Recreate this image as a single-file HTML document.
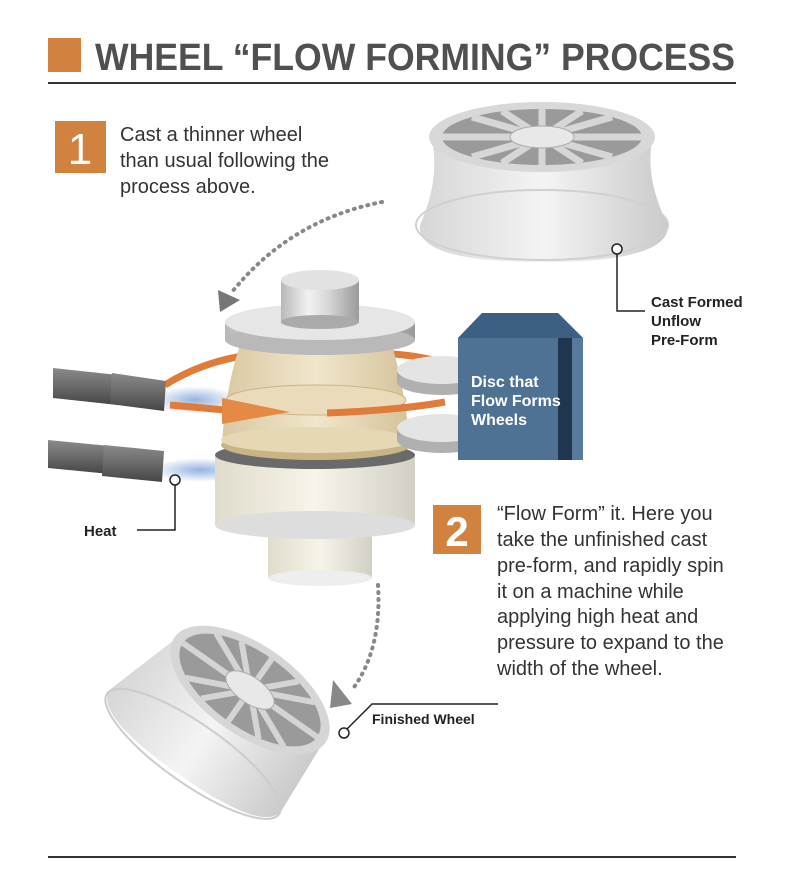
<!DOCTYPE html>
<html><head><meta charset="utf-8"><style>
body{margin:0;background:#fff}
svg{display:block}
.t{font-family:"Liberation Sans",sans-serif}
</style></head><body>
<svg width="800" height="894" viewBox="0 0 800 894" xmlns="http://www.w3.org/2000/svg">
<defs>
<linearGradient id="met" x1="0" x2="1" y1="0" y2="0">
<stop offset="0" stop-color="#b8b8b8"/><stop offset=".35" stop-color="#f2f2f2"/><stop offset=".6" stop-color="#d8d8d8"/><stop offset="1" stop-color="#9a9a9a"/></linearGradient>
<linearGradient id="met2" x1="0" x2="1"><stop offset="0" stop-color="#d6d6d6"/><stop offset=".5" stop-color="#f4f4f4"/><stop offset="1" stop-color="#cacaca"/></linearGradient>
<linearGradient id="tan" x1="0" x2="1"><stop offset="0" stop-color="#d9c8a2"/><stop offset=".5" stop-color="#f1e6cb"/><stop offset="1" stop-color="#d4c29a"/></linearGradient>
<linearGradient id="cream" x1="0" x2="1"><stop offset="0" stop-color="#e0dccc"/><stop offset=".5" stop-color="#f7f4ea"/><stop offset="1" stop-color="#d2cfc4"/></linearGradient>
<linearGradient id="rod" x1="0" y1="0" x2="0" y2="1"><stop offset="0" stop-color="#8a8a8a"/><stop offset=".5" stop-color="#6a6a6a"/><stop offset="1" stop-color="#454545"/></linearGradient>
<radialGradient id="blue" cx=".5" cy=".5" r=".5"><stop offset="0" stop-color="#7aa0d8" stop-opacity=".8"/><stop offset="1" stop-color="#7aa0d8" stop-opacity="0"/></radialGradient>
</defs>

<!-- title -->
<rect x="48" y="38" width="33" height="34" fill="#d2823f"/>
<text x="95" y="70" class="t" font-size="38" font-weight="bold" fill="#505050" textLength="640" lengthAdjust="spacingAndGlyphs">WHEEL “FLOW FORMING” PROCESS</text>
<line x1="48" y1="83" x2="736" y2="83" stroke="#333" stroke-width="2"/>
<line x1="48" y1="857" x2="736" y2="857" stroke="#333" stroke-width="2"/>

<!-- step 1 -->
<rect x="55" y="121" width="51" height="52" fill="#d2823f"/>
<text x="80" y="164" class="t" font-size="44" fill="#fff" text-anchor="middle">1</text>
<g class="t" font-size="20" fill="#333">
<text x="120" y="141">Cast a thinner wheel</text>
<text x="120" y="167">than usual following the</text>
<text x="120" y="193">process above.</text>
</g>

<!-- top wheel -->
<path d="M432 140 Q440 180 420 225 Q415 262 542 262 Q670 262 668 225 Q645 180 652 140 Z" fill="url(#met2)"/>
<ellipse cx="542" cy="225" rx="126" ry="35" fill="none" stroke="#d0d0d0" stroke-width="2"/>
<ellipse cx="542" cy="137" rx="113" ry="35" fill="#d8d8d8"/>
<ellipse cx="542" cy="137" rx="100" ry="28" fill="#9a9a9a"/>
<g stroke="#d6d6d6" stroke-width="7">
<line x1="542" y1="137" x2="542" y2="109"/><line x1="542" y1="137" x2="542" y2="165"/>
<line x1="542" y1="137" x2="642" y2="137"/><line x1="542" y1="137" x2="442" y2="137"/>
<line x1="542" y1="137" x2="612" y2="117"/><line x1="542" y1="137" x2="472" y2="157"/>
<line x1="542" y1="137" x2="612" y2="157"/><line x1="542" y1="137" x2="472" y2="117"/>
<line x1="542" y1="137" x2="582" y2="111"/><line x1="542" y1="137" x2="502" y2="163"/>
<line x1="542" y1="137" x2="582" y2="163"/><line x1="542" y1="137" x2="502" y2="111"/>
</g>
<ellipse cx="542" cy="137" rx="32" ry="11" fill="#e8e8e8" stroke="#aaa"/>

<!-- cast formed label -->
<circle cx="617" cy="249" r="5" fill="#fff" stroke="#222" stroke-width="1.5"/>
<polyline points="617,254 617,311 645,311" fill="none" stroke="#222" stroke-width="1.5"/>
<g class="t" font-size="15" font-weight="bold" fill="#222">
<text x="651" y="307">Cast Formed</text><text x="651" y="326">Unflow</text><text x="651" y="345">Pre-Form</text>
</g>

<!-- dotted arrow 1 -->
<path d="M382 202 Q290 220 232 292" fill="none" stroke="#888" stroke-width="4" stroke-dasharray="1 6" stroke-linecap="round"/>
<polygon points="218,290 240,300 220,312" fill="#777"/>

<!-- heat glows -->
<ellipse cx="195" cy="400" rx="45" ry="14" fill="url(#blue)"/>
<ellipse cx="200" cy="470" rx="50" ry="12" fill="url(#blue)"/>

<!-- orange orbit behind -->
<path d="M165 385 Q220 350 300 352 Q420 350 445 365" fill="none" stroke="#e07b3a" stroke-width="7"/>

<!-- lower cylinder -->
<rect x="268" y="520" width="104" height="58" fill="url(#cream)"/>
<ellipse cx="320" cy="578" rx="52" ry="8" fill="#eee"/>
<rect x="268" y="530" width="104" height="5" fill="#888"/>
<rect x="215" y="455" width="200" height="70" fill="url(#cream)"/>
<ellipse cx="315" cy="525" rx="100" ry="14" fill="#ddd"/>
<ellipse cx="315" cy="455" rx="100" ry="14" fill="#6a6a6a"/>

<!-- tan wheel -->
<path d="M240 345 Q225 390 222 445 L410 445 Q405 390 392 345 Z" fill="url(#tan)"/>
<ellipse cx="316" cy="445" rx="95" ry="15" fill="#c9b486"/>
<ellipse cx="316" cy="440" rx="95" ry="13" fill="#e6d8b5"/>
<ellipse cx="316" cy="400" rx="90" ry="15" fill="#eadcbb" stroke="#c9b486"/>

<!-- top disc + cylinder -->
<rect x="225" y="322" width="190" height="18" fill="url(#met)"/>
<ellipse cx="320" cy="340" rx="95" ry="15" fill="#b9b9b9"/>
<ellipse cx="320" cy="322" rx="95" ry="18" fill="#e6e6e6"/>
<rect x="281" y="280" width="78" height="42" fill="url(#met)"/>
<ellipse cx="320" cy="322" rx="39" ry="7" fill="#aaa"/>
<ellipse cx="320" cy="280" rx="39" ry="10" fill="#e2e2e2"/>

<!-- orange arrow front -->
<path d="M170 405 L225 410" stroke="#e07b3a" stroke-width="7"/>
<polygon points="222,398 290,412 222,424" fill="#e58a45"/>
<path d="M327 413 Q400 410 445 402" fill="none" stroke="#e07b3a" stroke-width="7"/>

<!-- discs -->
<rect x="397" y="370" width="90" height="12" fill="#aaa"/>
<ellipse cx="442" cy="382" rx="45" ry="13" fill="#b0b0b0"/>
<ellipse cx="442" cy="370" rx="45" ry="14" fill="#e4e4e4"/>
<rect x="397" y="428" width="90" height="12" fill="#aaa"/>
<ellipse cx="442" cy="440" rx="45" ry="13" fill="#b0b0b0"/>
<ellipse cx="442" cy="428" rx="45" ry="14" fill="#e4e4e4"/>

<!-- blue box -->
<polygon points="458,338 482,313 558,313 583,338 583,460 458,460" fill="#4f7194"/>
<polygon points="458,338 482,313 558,313 583,338" fill="#3d5f82"/>
<rect x="558" y="338" width="14" height="122" fill="#1f3550"/>
<rect x="572" y="338" width="11" height="122" fill="#577a9c"/>
<g class="t" font-size="16" font-weight="bold" fill="#fff">
<text x="471" y="387">Disc that</text><text x="471" y="406">Flow Forms</text><text x="471" y="425">Wheels</text>
</g>

<!-- heater rods -->
<polygon points="53,368 118,375 118,405 53,398" fill="url(#rod)"/>
<polygon points="112,373 166,381 164,411 110,404" fill="url(#rod)"/>
<polygon points="48,440 110,446 110,474 48,468" fill="url(#rod)"/>
<polygon points="104,445 164,451 162,482 102,476" fill="url(#rod)"/>

<!-- heat label -->
<circle cx="175" cy="480" r="5" fill="#fff" stroke="#222" stroke-width="1.5"/>
<polyline points="175,485 175,530 137,530" fill="none" stroke="#222" stroke-width="1.5"/>
<text x="84" y="536" class="t" font-size="15" font-weight="bold" fill="#222">Heat</text>

<!-- step 2 -->
<rect x="433" y="505" width="48" height="49" fill="#d2823f"/>
<text x="457" y="546" class="t" font-size="42" font-weight="bold" fill="#fff" text-anchor="middle">2</text>
<g class="t" font-size="20" fill="#333">
<text x="497" y="520">“Flow Form” it. Here you</text>
<text x="497" y="546">take the unfinished cast</text>
<text x="497" y="572">pre-form, and rapidly spin</text>
<text x="497" y="598">it on a machine while</text>
<text x="497" y="623">applying high heat and</text>
<text x="497" y="649">pressure to expand to the</text>
<text x="497" y="675">width of the wheel.</text>
</g>

<!-- dotted arrow 2 -->
<path d="M378 585 Q382 650 352 690" fill="none" stroke="#888" stroke-width="4" stroke-dasharray="1 6" stroke-linecap="round"/>
<polygon points="333,680 352,704 330,708" fill="#888"/>

<!-- finished wheel -->
<g transform="rotate(35 250 690)">
<path d="M160 690 L135 770 Q135 800 240 800 Q345 800 345 770 L340 690 Z" fill="url(#met2)"/>
<ellipse cx="240" cy="775" rx="105" ry="30" fill="none" stroke="#ccc" stroke-width="2"/>
<ellipse cx="250" cy="690" rx="92" ry="45" fill="#d6d6d6"/>
<ellipse cx="250" cy="690" rx="82" ry="38" fill="#9a9a9a"/>
<g stroke="#d4d4d4" stroke-width="6">
<line x1="250" y1="690" x2="250" y2="652"/><line x1="250" y1="690" x2="250" y2="728"/>
<line x1="250" y1="690" x2="332" y2="690"/><line x1="250" y1="690" x2="168" y2="690"/>
<line x1="250" y1="690" x2="310" y2="663"/><line x1="250" y1="690" x2="190" y2="717"/>
<line x1="250" y1="690" x2="310" y2="717"/><line x1="250" y1="690" x2="190" y2="663"/>
<line x1="250" y1="690" x2="285" y2="655"/><line x1="250" y1="690" x2="215" y2="725"/>
<line x1="250" y1="690" x2="285" y2="725"/><line x1="250" y1="690" x2="215" y2="655"/>
</g>
<ellipse cx="250" cy="690" rx="28" ry="13" fill="#e8e8e8" stroke="#aaa"/>
</g>
<circle cx="344" cy="733" r="5" fill="#fff" stroke="#222" stroke-width="1.5"/>
<polyline points="347,729 372,704 498,704" fill="none" stroke="#222" stroke-width="1.5"/>
<text x="372" y="724" class="t" font-size="14" font-weight="bold" fill="#222">Finished Wheel</text>
</svg>
</body></html>
